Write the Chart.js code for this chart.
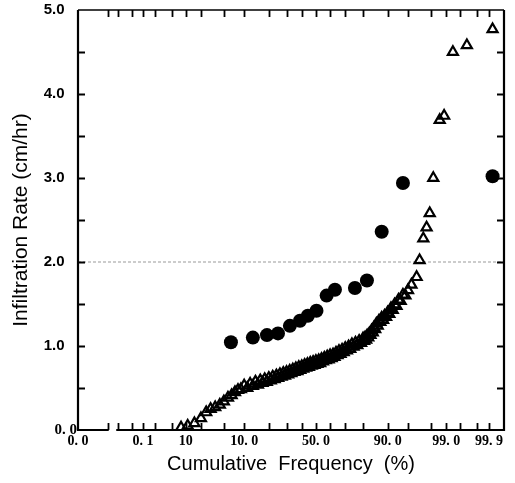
<!DOCTYPE html>
<html><head><meta charset="utf-8">
<script src="https://cdn.jsdelivr.net/npm/chart.js@4.4.1/dist/chart.umd.min.js"></script>
<style>html,body{margin:0;padding:0;background:#fff}</style>
</head><body>
<canvas id="c" width="515" height="483"></canvas>
<script>
// ---- data (cumulative frequency in %, infiltration rate in cm/hr) ----
const circlePct  = [6.45, 13.0, 19.1, 24.9, 32.1, 38.8, 44.3, 50.4, 57.6, 63.3, 75.7, 81.9, 88.0, 94.0, 99.92];
const circleRate = [1.045, 1.10, 1.13, 1.15, 1.24, 1.30, 1.36, 1.42, 1.60, 1.67, 1.69, 1.78, 2.36, 2.94, 3.02];

const trianglePct = [0.8, 1.1, 1.5, 2.0, 2.5, 3.0, 3.6, 4.3, 5.0, 5.8, 6.6, 7.4, 8.2, 9.0,
  10, 11, 12, 13, 14, 15, 16, 17, 18, 19, 20, 21, 22, 23, 24, 25, 26, 27, 28, 29,
  30, 31, 32, 33, 34, 35, 36, 37, 38, 39, 40, 41, 42, 43, 44, 45, 46, 47, 48, 49,
  50, 51, 52, 53, 54, 55, 56, 57, 58, 59, 60, 61, 62, 63, 64, 65, 66, 67, 68, 69,
  70, 71, 72, 73, 74, 75, 76, 77, 78, 79, 80, 80.5, 81, 81.5, 82, 82.5, 83, 83.5, 84, 84.5,
  85, 85.5, 86, 86.5, 87, 87.5, 88, 88.5, 89, 89.5, 90, 90.5, 91, 91.5, 92, 92.5, 93, 93.5, 94, 94.5,
  95, 95.6, 96.4, 96.8, 97.25, 97.6, 97.9, 98.2, 98.65, 98.9, 99.28, 99.65, 99.92];
const triangleRate = [0.03, 0.05, 0.08, 0.14, 0.21, 0.25, 0.27, 0.30, 0.34, 0.385, 0.415, 0.45, 0.475, 0.485,
  0.53, 0.50, 0.55, 0.525, 0.575, 0.54, 0.59, 0.56, 0.605, 0.57, 0.62, 0.59, 0.635, 0.605, 0.65, 0.62, 0.665, 0.635, 0.68, 0.645,
  0.69, 0.66, 0.705, 0.675, 0.72, 0.69, 0.735, 0.70, 0.75, 0.715, 0.76, 0.73, 0.775, 0.74, 0.785, 0.75, 0.80, 0.765, 0.81, 0.775,
  0.82, 0.785, 0.83, 0.795, 0.845, 0.815, 0.86, 0.83, 0.875, 0.84, 0.89, 0.855, 0.90, 0.87, 0.92, 0.89, 0.94, 0.905, 0.955, 0.925,
  0.975, 0.945, 0.995, 0.965, 1.02, 0.99, 1.04, 1.01, 1.06, 1.035, 1.09, 1.06, 1.10, 1.075, 1.125, 1.10, 1.15, 1.13, 1.185, 1.16,
  1.22, 1.20, 1.265, 1.24, 1.30, 1.285, 1.335, 1.31, 1.36, 1.345, 1.40, 1.38, 1.45, 1.43, 1.495, 1.475, 1.55, 1.535, 1.61, 1.60,
  1.665, 1.73, 1.82, 2.02, 2.28, 2.41, 2.58, 3.00, 3.69, 3.74, 4.50, 4.58, 4.77];

const refLevel = 2.0;

// ---- axis ticks ----
const xTickPct   = [0.01, 0.02, 0.05, 0.1, 0.2, 0.5, 1, 2, 5, 10, 20, 30, 40, 50, 60, 70, 80, 90, 95, 98, 99, 99.5, 99.8, 99.9];
const xLabelPct  = [0.1, 1, 10, 50, 90, 99, 99.9];
const xLabelText = ['0. 1', '10', '10. 0', '50. 0', '90. 0', '99. 0', '99. 9'];
const xMinLabel  = '0. 0';
const xBreakPct  = [0.01, 0.02];
const yTicks      = [0, 1, 2, 3, 4, 5];
const yMinorTicks = [0.5, 1, 1.5, 2, 2.5, 3, 3.5, 4, 4.5];

const X_Z_MIN = -4.25, X_Z_MAX = 3.36;

// normal-probability transform (inverse normal CDF), percent -> z
function probit(pct) {
  const p = pct / 100;
  const a = [-3.969683028665376e+01, 2.209460984245205e+02, -2.759285104469687e+02, 1.383577518672690e+02, -3.066479806614716e+01, 2.506628277459239e+00];
  const b = [-5.447609879822406e+01, 1.615858368580409e+02, -1.556989798598866e+02, 6.680131188771972e+01, -1.328068155288572e+01];
  const c = [-7.784894002430293e-03, -3.223964580411365e-01, -2.400758277161838e+00, -2.549732539343734e+00, 4.374664141464968e+00, 2.938163982698783e+00];
  const d = [7.784695709041462e-03, 3.224671290700398e-01, 2.445134137142996e+00, 3.754408661907416e+00];
  const pl = 0.02425, ph = 1 - pl;
  let q, r;
  if (p < pl) {
    q = Math.sqrt(-2 * Math.log(p));
    return (((((c[0]*q+c[1])*q+c[2])*q+c[3])*q+c[4])*q+c[5]) / ((((d[0]*q+d[1])*q+d[2])*q+d[3])*q+1);
  }
  if (p <= ph) {
    q = p - 0.5; r = q * q;
    return (((((a[0]*r+a[1])*r+a[2])*r+a[3])*r+a[4])*r+a[5])*q / (((((b[0]*r+b[1])*r+b[2])*r+b[3])*r+b[4])*r+1);
  }
  q = Math.sqrt(-2 * Math.log(1 - p));
  return -(((((c[0]*q+c[1])*q+c[2])*q+c[3])*q+c[4])*q+c[5]) / ((((d[0]*q+d[1])*q+d[2])*q+d[3])*q+1);
}

const toPoints = (pcts, vals) => pcts.map((p, i) => ({ x: probit(p), y: vals[i] }));

const framePlugin = {
  id: 'frame',
  afterDatasetsDraw(chart) {
    const { ctx, chartArea: ca, scales: { x, y } } = chart;
    ctx.save();
    ctx.strokeStyle = '#000';
    ctx.lineCap = 'butt';
    ctx.lineWidth = 2.2;
    ctx.beginPath();
    ctx.moveTo(ca.left, ca.top); ctx.lineTo(ca.left, ca.bottom);
    ctx.moveTo(ca.right, ca.top); ctx.lineTo(ca.right, ca.bottom + 1);
    ctx.stroke();
    ctx.lineWidth = 1.6;
    ctx.beginPath();
    ctx.moveTo(ca.left, ca.top); ctx.lineTo(ca.right, ca.top);
    ctx.stroke();
    const g0 = x.getPixelForValue(probit(xBreakPct[0])) + 1;
    const g1 = x.getPixelForValue(probit(xBreakPct[1])) - 1.5;
    ctx.lineWidth = 2;
    ctx.beginPath();
    ctx.moveTo(ca.left - 1, ca.bottom); ctx.lineTo(g0, ca.bottom);
    ctx.moveTo(g1, ca.bottom); ctx.lineTo(ca.right, ca.bottom);
    ctx.stroke();
    ctx.lineWidth = 1.8;
    ctx.beginPath();
    xTickPct.forEach(p => {
      const px = Math.round(x.getPixelForValue(probit(p))) + 0.5;
      ctx.moveTo(px, ca.bottom); ctx.lineTo(px, ca.bottom - 7);
      ctx.moveTo(px, ca.top); ctx.lineTo(px, ca.top + 7);
    });
    yMinorTicks.forEach(v => {
      const py = Math.round(y.getPixelForValue(v)) + 0.5;
      ctx.moveTo(ca.left, py); ctx.lineTo(ca.left + 7, py);
      ctx.moveTo(ca.right, py); ctx.lineTo(ca.right - 7, py);
    });
    ctx.stroke();
    ctx.restore();
  }
};

new Chart(document.getElementById('c'), {
  type: 'scatter',
  data: {
    datasets: [
      {
        label: 'circles',
        data: toPoints(circlePct, circleRate),
        pointStyle: 'circle', pointRadius: 7, pointBackgroundColor: '#000', pointBorderWidth: 0,
        order: 0
      },
      {
        label: 'triangles',
        data: toPoints(trianglePct, triangleRate),
        pointStyle: 'triangle', pointRadius: 5.8, pointBorderWidth: 2.2,
        pointBorderColor: '#000', pointBackgroundColor: 'rgba(0,0,0,0)',
        order: 1
      },
      {
        type: 'line',
        label: 'ref',
        data: [{ x: X_Z_MIN, y: refLevel }, { x: X_Z_MAX, y: refLevel }],
        borderColor: '#999', borderWidth: 1, borderDash: [3, 2], pointRadius: 0,
        order: 2
      }
    ]
  },
  options: {
    responsive: false,
    animation: false,
    devicePixelRatio: 1,
    layout: { padding: { left: 0, right: 11, top: 7, bottom: 0 } },
    plugins: { legend: { display: false }, tooltip: { enabled: false } },
    scales: {
      x: {
        type: 'linear', min: X_Z_MIN, max: X_Z_MAX,
        afterBuildTicks: s => { s.ticks = [{ value: X_Z_MIN }].concat(xLabelPct.map(p => ({ value: probit(p) }))); },
        afterFit: s => { s.height = 53; },
        grid: { display: false, drawTicks: false },
        border: { display: false },
        ticks: {
          autoSkip: false, maxRotation: 0, padding: 3, color: '#000',
          font: { family: 'Liberation Serif', size: 14, weight: 'bold' },
          callback: (v, i) => i === 0 ? xMinLabel : xLabelText[i - 1]
        },
        title: {
          display: true, text: 'Cumulative  Frequency  (%)', color: '#000',
          font: { family: 'Liberation Sans', size: 20 },
          padding: { top: 0, bottom: 7 }
        }
      },
      y: {
        type: 'linear', min: 0, max: 5,
        afterBuildTicks: s => { s.ticks = yTicks.map(v => ({ value: v })); },
        afterFit: s => { s.width = 78; },
        grid: { display: false, drawTicks: false },
        border: { display: false },
        ticks: {
          padding: 1, color: '#000',
          font: ctx => (ctx.tick && ctx.tick.value === 0)
            ? { family: 'Liberation Serif', size: 15, weight: 'bold' }
            : { family: 'Liberation Sans', size: 15, weight: 'bold' },
          callback: v => v === 0 ? '0. 0' : v.toFixed(1) + '   '
        },
        title: {
          display: true, text: 'Infiltration Rate (cm/hr)', color: '#000',
          font: { family: 'Liberation Sans', size: 21 },
          padding: { top: 9, bottom: 0 }
        }
      }
    }
  },
  plugins: [framePlugin]
});
</script>
</body></html>
